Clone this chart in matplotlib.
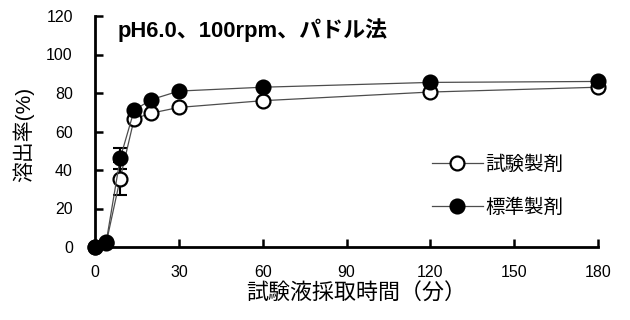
import matplotlib
matplotlib.use('Agg')
import matplotlib.pyplot as plt

plt.rcParams['font.family'] = ['Liberation Sans', 'Noto Sans CJK JP']

# data
times = [0, 4, 9, 14, 20, 30, 60, 120, 180]
test_vals = [0, 2, 35.5, 66.5, 69.5, 72.5, 76, 80.5, 83]
test_err = [0, 0, 8.5, 0, 0, 0, 0, 0, 0]
ref_vals = [0, 2.5, 46, 71, 76.5, 81, 83, 85.5, 86]
ref_err = [0, 0, 5.5, 0, 0, 0, 0, 0, 0]
x_ticks = [0, 30, 60, 90, 120, 150, 180]
y_ticks = [0, 20, 40, 60, 80, 100, 120]

fig = plt.figure(figsize=(6.3, 3.2), dpi=100)
ax = fig.add_axes([95/630, 1-247/320, 503/630, 231/320])

# error bars first
ax.errorbar(times, test_vals, yerr=test_err, fmt='none', ecolor='black',
            elinewidth=1.5, capsize=5, capthick=1.5, clip_on=False, zorder=2)
ax.errorbar(times, ref_vals, yerr=ref_err, fmt='none', ecolor='black',
            elinewidth=1.5, capsize=5, capthick=1.5, clip_on=False, zorder=2)

ax.plot(times, test_vals, color='0.3', lw=0.9, marker='o', markersize=10,
        markerfacecolor='white', markeredgecolor='black', markeredgewidth=1.6,
        clip_on=False, zorder=3, label='試験製剤')
ax.plot(times, ref_vals, color='0.3', lw=0.9, marker='o', markersize=10,
        markerfacecolor='black', markeredgecolor='black', markeredgewidth=1.6,
        clip_on=False, zorder=4, label='標準製剤')

ax.set_xlim(0, 180)
ax.set_ylim(0, 120)
ax.set_xticks(x_ticks)
ax.set_yticks(y_ticks)
ax.spines['top'].set_visible(False)
ax.spines['right'].set_visible(False)
ax.spines['left'].set_linewidth(2)
ax.spines['bottom'].set_linewidth(2)
ax.tick_params(direction='in', length=6, width=1.8, labelsize=11.5)
ax.tick_params(axis='y', pad=16)
ax.tick_params(axis='x', pad=13)

ax.set_xlabel('試験液採取時間（分）', fontsize=15.8, labelpad=3)
ax.xaxis.label.set_x(0.52)
fig.text(23/630, 1-134/320, '溶出率(%)', rotation=90, fontsize=15,
         ha='center', va='center')

fig.text(118/630, 1-30/320, 'pH6.0、100rpm、パドル法', fontsize=15.8,
         fontweight='bold', ha='left', va='center')

ax.legend(loc='upper left', bbox_to_anchor=(0.67, 0.398), frameon=False,
          handlelength=2.6, handletextpad=0.15, labelspacing=1.3,
          borderpad=0, borderaxespad=0, fontsize=14)

fig.savefig('out.png', dpi=100)
